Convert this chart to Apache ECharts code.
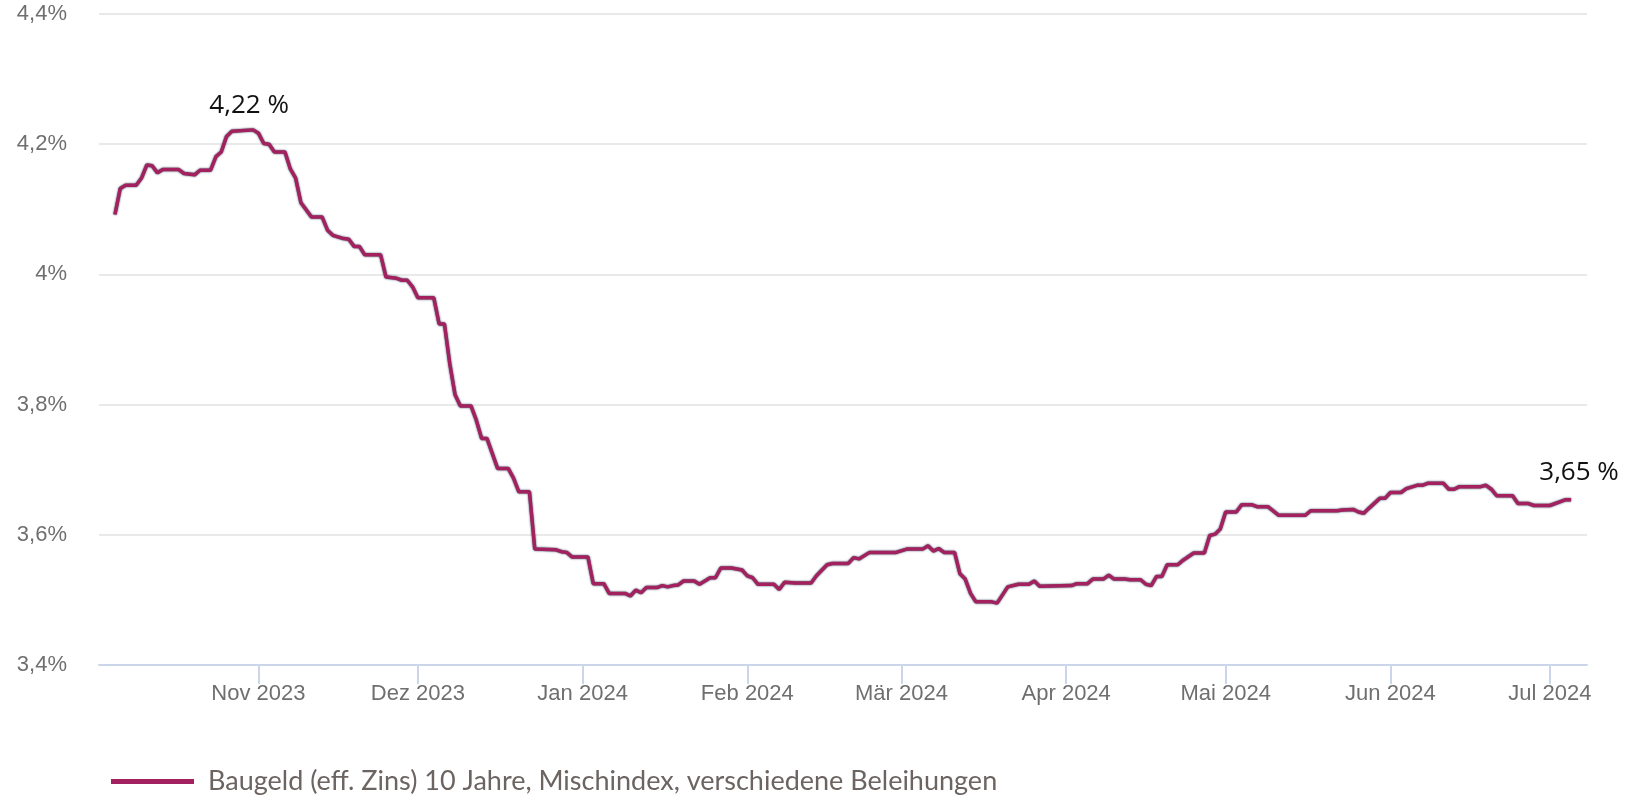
<!DOCTYPE html>
<html>
<head>
    <meta charset="utf-8"/>
    <script src="https://cdn.jsdelivr.net/npm/echarts@6/dist/echarts.min.js"></script>
    <style>
        html, body { margin: 0; padding: 0; background: #fff; }
    </style>
</head>
<body>
<div id="main" style="width: 1646px;height:799px;"></div>
<script type="text/javascript">
    // Baugeld 10 Jahre, Tageswerte
    var dates = [
        '2023-10-05', '2023-10-06', '2023-10-07', '2023-10-09', '2023-10-10', '2023-10-11', '2023-10-12', '2023-10-13',
        '2023-10-14', '2023-10-17', '2023-10-18', '2023-10-20', '2023-10-21', '2023-10-23', '2023-10-24', '2023-10-25',
        '2023-10-26', '2023-10-27', '2023-10-31', '2023-11-01', '2023-11-02', '2023-11-03', '2023-11-04', '2023-11-06',
        '2023-11-07', '2023-11-08', '2023-11-09', '2023-11-11', '2023-11-13', '2023-11-14', '2023-11-15', '2023-11-17',
        '2023-11-18', '2023-11-19', '2023-11-20', '2023-11-21', '2023-11-24', '2023-11-25', '2023-11-27', '2023-11-28',
        '2023-11-29', '2023-11-30', '2023-12-01', '2023-12-04', '2023-12-05', '2023-12-06', '2023-12-07', '2023-12-08',
        '2023-12-09', '2023-12-11', '2023-12-12', '2023-12-13', '2023-12-14', '2023-12-15', '2023-12-16', '2023-12-18',
        '2023-12-19', '2023-12-20', '2023-12-22', '2023-12-23', '2023-12-27', '2023-12-28', '2023-12-29', '2023-12-30',
        '2024-01-02', '2024-01-03', '2024-01-05', '2024-01-06', '2024-01-09', '2024-01-10', '2024-01-11', '2024-01-12',
        '2024-01-13', '2024-01-15', '2024-01-16', '2024-01-17', '2024-01-18', '2024-01-19', '2024-01-20', '2024-01-22',
        '2024-01-23', '2024-01-24', '2024-01-25', '2024-01-26', '2024-01-27', '2024-01-29', '2024-01-31', '2024-02-01',
        '2024-02-02', '2024-02-03', '2024-02-06', '2024-02-07', '2024-02-08', '2024-02-10', '2024-02-13', '2024-02-14',
        '2024-02-16', '2024-02-17', '2024-02-20', '2024-02-21', '2024-02-22', '2024-02-24', '2024-02-29', '2024-03-02',
        '2024-03-05', '2024-03-06', '2024-03-07', '2024-03-08', '2024-03-09', '2024-03-11', '2024-03-12', '2024-03-13',
        '2024-03-14', '2024-03-15', '2024-03-18', '2024-03-19', '2024-03-21', '2024-03-23', '2024-03-25', '2024-03-26',
        '2024-03-27', '2024-04-02', '2024-04-03', '2024-04-05', '2024-04-06', '2024-04-08', '2024-04-09', '2024-04-10',
        '2024-04-12', '2024-04-13', '2024-04-15', '2024-04-16', '2024-04-17', '2024-04-18', '2024-04-19', '2024-04-20',
        '2024-04-22', '2024-04-23', '2024-04-25', '2024-04-27', '2024-04-28', '2024-04-29', '2024-04-30', '2024-05-01',
        '2024-05-03', '2024-05-04', '2024-05-06', '2024-05-07', '2024-05-09', '2024-05-11', '2024-05-16', '2024-05-17',
        '2024-05-22', '2024-05-23', '2024-05-25', '2024-05-26', '2024-05-27', '2024-05-28', '2024-05-30', '2024-05-31',
        '2024-06-01', '2024-06-03', '2024-06-04', '2024-06-06', '2024-06-07', '2024-06-08', '2024-06-11', '2024-06-12',
        '2024-06-13', '2024-06-14', '2024-06-18', '2024-06-19', '2024-06-20', '2024-06-21', '2024-06-24', '2024-06-25',
        '2024-06-27', '2024-06-28', '2024-07-01', '2024-07-03', '2024-07-04', '2024-07-05'
    ];
    var rates = [
        4.092, 4.132, 4.137, 4.137, 4.148, 4.168, 4.167, 4.156,
        4.161, 4.161, 4.155, 4.153, 4.160, 4.160, 4.181, 4.188,
        4.212, 4.220, 4.222, 4.217, 4.201, 4.200, 4.188, 4.188,
        4.162, 4.148, 4.110, 4.088, 4.088, 4.068, 4.060, 4.055,
        4.054, 4.043, 4.043, 4.030, 4.030, 3.996, 3.994, 3.991,
        3.991, 3.981, 3.964, 3.964, 3.924, 3.924, 3.863, 3.815,
        3.798, 3.798, 3.776, 3.748, 3.748, 3.725, 3.702, 3.702,
        3.687, 3.666, 3.666, 3.578, 3.577, 3.574, 3.573, 3.566,
        3.566, 3.525, 3.525, 3.510, 3.510, 3.506, 3.515, 3.511,
        3.519, 3.519, 3.522, 3.520, 3.522, 3.523, 3.529, 3.529,
        3.524, 3.529, 3.534, 3.534, 3.549, 3.549, 3.546, 3.537,
        3.534, 3.524, 3.524, 3.516, 3.527, 3.526, 3.526, 3.537,
        3.554, 3.556, 3.556, 3.565, 3.563, 3.573, 3.573, 3.578,
        3.578, 3.583, 3.575, 3.579, 3.573, 3.573, 3.540, 3.532,
        3.510, 3.497, 3.497, 3.495, 3.520, 3.524, 3.524, 3.529,
        3.521, 3.522, 3.525, 3.525, 3.532, 3.532, 3.538, 3.532,
        3.532, 3.531, 3.531, 3.524, 3.522, 3.536, 3.536, 3.554,
        3.554, 3.561, 3.572, 3.572, 3.599, 3.601, 3.609, 3.635,
        3.635, 3.646, 3.646, 3.643, 3.643, 3.630, 3.630, 3.637,
        3.637, 3.638, 3.639, 3.635, 3.633, 3.641, 3.656, 3.656,
        3.665, 3.665, 3.671, 3.676, 3.676, 3.679, 3.679, 3.670,
        3.670, 3.674, 3.674, 3.676, 3.670, 3.660, 3.660, 3.648,
        3.648, 3.645, 3.645, 3.651, 3.654, 3.654
    ];
    var monthNames = ['Jan', 'Feb', 'Mär', 'Apr', 'Mai', 'Jun', 'Jul', 'Aug', 'Sep', 'Okt', 'Nov', 'Dez'];
    var seriesName = 'Baugeld (eff. Zins) 10 Jahre, Mischindex, verschiedene Beleihungen';

    var DAY = 24 * 3600 * 1000;
    var peakIdx = rates.indexOf(Math.max.apply(null, rates));
    var lastIdx = rates.length - 1;

    function fmtRate(v) {
        return v.toFixed(2).replace('.', ',') + ' %';
    }

    var chartDom = document.getElementById('main');
    var myChart = echarts.init(chartDom);
    var option = {
        animation: false,
        grid: { left: 99, right: 59, top: 14, bottom: 134, containLabel: false },
        legend: {
            data: [{ name: seriesName, icon: 'rect' }],
            left: 111,
            top: 768,
            padding: 0,
            itemWidth: 83,
            itemHeight: 5,
            textStyle: {
                fontFamily: 'Lato',
                fontSize: 27,
                color: '#6b6461',
                padding: [0, 0, 0, 9]
            }
        },
        xAxis: {
            type: 'time',
            min: '2023-10-02',
            max: '2024-07-08',
            minInterval: 28 * DAY,
            maxInterval: 31 * DAY,
            axisLine: { lineStyle: { color: '#ccd6eb', width: 2 } },
            axisTick: { show: true, length: 19, lineStyle: { color: '#ccd6eb', width: 2 } },
            splitLine: { show: false },
            axisLabel: {
                margin: 18,
                fontFamily: 'Liberation Sans',
                fontSize: 22,
                color: '#6f6f6f',
                formatter: function (value) {
                    var d = new Date(value);
                    return monthNames[d.getMonth()] + ' ' + d.getFullYear();
                }
            }
        },
        yAxis: {
            type: 'value',
            min: 3.4,
            max: 4.4,
            interval: 0.2,
            axisLine: { show: false },
            axisTick: { show: false },
            splitLine: { lineStyle: { color: '#e9e9e9', width: 2 } },
            axisLabel: {
                margin: 32,
                fontFamily: 'Liberation Sans',
                fontSize: 22,
                color: '#6f6f6f',
                formatter: function (v) {
                    return String(+v.toFixed(1)).replace('.', ',') + '%';
                }
            }
        },
        series: [
            {
                name: seriesName,
                type: 'line',
                showSymbol: false,
                symbol: 'none',
                color: '#a3215f',
                lineStyle: {
                    width: 3.5,
                    color: '#a3215f',
                    shadowColor: 'rgba(35, 55, 75, 0.95)',
                    shadowBlur: 2
                },
                data: dates.map(function (d, i) { return [d, rates[i]]; }),
                markPoint: {
                    symbol: 'circle',
                    symbolSize: 1,
                    itemStyle: { color: 'rgba(0,0,0,0)' },
                    label: {
                        show: true,
                        position: 'top',
                        fontFamily: 'Open Sans',
                        fontSize: 26,
                        color: '#111',
                        formatter: function (p) { return fmtRate(p.value); }
                    },
                    data: [
                        { coord: [dates[peakIdx], rates[peakIdx]], value: rates[peakIdx],
                          label: { distance: 11, offset: [-4, 0] } },
                        { coord: [dates[lastIdx], rates[lastIdx]], value: rates[lastIdx],
                          label: { distance: 14, offset: [8, 0] } }
                    ]
                }
            }
        ]
    };

    option && myChart.setOption(option);
</script>
</body>
</html>
